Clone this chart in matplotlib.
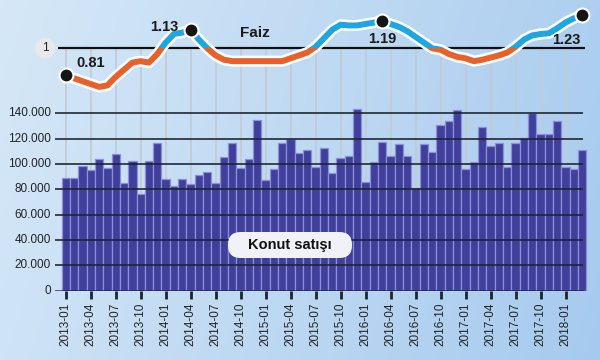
import numpy as np
import matplotlib
matplotlib.use("Agg")
import matplotlib.pyplot as plt
from matplotlib.patches import Rectangle, FancyBboxPatch

plt.rcParams["font.family"] = ["Liberation Sans", "DejaVu Sans"]

# ─── Data ────────────────────────────────────────────────────────────────────

# monthly house sales, 2013-01 .. 2018-03
sales = [
    89000, 89000, 98400, 95300, 103700, 97100, 107700, 85200, 102600, 76300,
    102600, 116400, 88100, 82600, 88100, 84000, 91000, 93400, 85200, 105500,
    116400, 96600, 104200, 135000, 87100, 95800, 116900, 120000, 108700, 111300,
    97400, 112900, 92600, 104500, 106300, 143500, 85500, 101800, 117600, 106300,
    115600, 106300, 81000, 115600, 109500, 130600, 133800, 143000, 96000, 101800,
    129000, 114200, 116900, 97900, 116400, 120800, 140300, 123500, 123500, 133800,
    97900, 96300, 111300,
]

# interest ("Faiz") line, same months
faiz = [
    0.81, 0.79, 0.77, 0.75, 0.73, 0.74, 0.80, 0.85, 0.90, 0.91,
    0.90, 0.96, 1.04, 1.10, 1.11, 1.13, 1.06, 1.00, 0.95, 0.92,
    0.91, 0.91, 0.91, 0.91, 0.91, 0.91, 0.91, 0.93, 0.95, 0.97,
    1.01, 1.07, 1.13, 1.165, 1.16, 1.16, 1.17, 1.18, 1.19, 1.17,
    1.15, 1.12, 1.08, 1.04, 1.00, 0.99, 0.96, 0.94, 0.93, 0.91,
    0.92, 0.935, 0.95, 0.97, 1.01, 1.06, 1.09, 1.10, 1.105, 1.14,
    1.18, 1.21, 1.23,
]

# labelled points: (month index, text, dx, dy in points, ha)
callouts = [
    (0, "0.81", 8, 9, "left"),
    (15, "1.13", -9, 2, "right"),
    (38, "1.19", 0, -13, "center"),
    (62, "1.23", -1, -18, "right"),
]

tick_labels = [f"{y}-{m:02d}" for y in range(2013, 2019) for m in (1, 4, 7, 10)][:21]
tick_pos = list(range(0, len(sales), 3))

months = np.arange(len(sales))

BAR = "#40409c"
GAP = "#8e8ed8"
ORANGE = "#e8602a"
BLUE = "#1ea6e2"
DARK = "#1c2430"

LINE_YMIN, LINE_YMAX = -0.695, 1.303

# ─── Figure & background ─────────────────────────────────────────────────────

W, H = 600, 360
fig = plt.figure(figsize=(6, 3.6), dpi=100)
bg = fig.add_axes([0, 0, 1, 1])
gx, gy = np.meshgrid(np.linspace(0, 1, 200), np.linspace(0, 1, 120))
grad = np.clip(0.75 * gx + 0.15 * gy, 0, 1)
c0 = np.array([0.84, 0.91, 0.97])
c1 = np.array([0.63, 0.78, 0.93])
img = c0[None, None, :] * (1 - grad[..., None]) + c1[None, None, :] * grad[..., None]
bg.imshow(img, extent=[0, 1, 0, 1], aspect="auto", origin="upper")
bg.axis("off")

# axes box in pixels: x 55..590, y 5..290.5 (from top)
left, right, top, bottom = 55, 590, 5, 290.5
ax = fig.add_axes([left / W, 1 - bottom / H, (right - left) / W, (bottom - top) / H])
ax.patch.set_alpha(0)
x0 = (left - 65.7) / 8.33
x1 = (right - 65.7) / 8.33
ax.set_xlim(x0, x1)
ax.set_ylim(0, (bottom - top) / 25.3 * 20000)

# vertical grid from the "1" line downwards
frac = (1 - LINE_YMIN) / (LINE_YMAX - LINE_YMIN)
ax.vlines(tick_pos, 0, frac, transform=ax.get_xaxis_transform(),
          color="#c3cbd6", lw=1.3, zorder=1)

ax.bar(months, sales, width=1.0, color=BAR, edgecolor=GAP, linewidth=0.9, zorder=2)

gx0 = (53 - 65.7) / 8.33
gx1 = (583 - 65.7) / 8.33
for v in range(0, 140001, 20000):
    ax.hlines(v, gx0, gx1, color=DARK, lw=1.3 if v else 1.8, zorder=3, alpha=0.9)
    ax.text(gx0 - 0.25, v, f"{v:,}".replace(",", ".") if v else "0",
            ha="right", va="center", fontsize=8.5, color="#222222", clip_on=False)

ax.set_xticks(tick_pos)
ax.set_xticklabels(tick_labels, rotation=90, fontsize=8.5, color="#222222")
ax.tick_params(axis="x", length=6, width=2, color=DARK, pad=3)
ax.set_yticks([])
for s in ax.spines.values():
    s.set_visible(False)

# "Konut satışı" label box, placed in figure pixels
ax.add_patch(FancyBboxPatch((228 / W, 1 - 258 / H), 124 / W, 26 / H,
                            boxstyle="round,pad=0,rounding_size=0.021",
                            mutation_aspect=W / H, transform=fig.transFigure,
                            fc="#f1f2f7", ec="none", zorder=4, clip_on=False))
ax.text(290 / W, 1 - 245.5 / H, "Konut satışı", transform=fig.transFigure,
        ha="center", va="center", fontsize=10.5, fontweight="bold",
        color="#111111", zorder=5)

# ─── Faiz line ───────────────────────────────────────────────────────────────

ax2 = ax.twinx()
ax2.set_ylim(LINE_YMIN, LINE_YMAX)
ax2.set_xlim(x0, x1)
ax2.axis("off")

ax2.hlines(1, (58 - 65.7) / 8.33, (585 - 65.7) / 8.33, color="#111111", lw=1.6, zorder=1)
ax2.text((45 - 65.7) / 8.33, 1, "1", ha="center", va="center", fontsize=8.5,
         color="#222222", clip_on=False,
         bbox=dict(boxstyle="circle,pad=0.35", fc="#e9e9ea", ec="none"))

ax2.plot(months, faiz, color="white", lw=8, solid_capstyle="round",
         solid_joinstyle="round", zorder=2)
above = Rectangle((x0, 1), x1 - x0, LINE_YMAX - 1, transform=ax2.transData)
below = Rectangle((x0, LINE_YMIN), x1 - x0, 1 - LINE_YMIN, transform=ax2.transData)
lb, = ax2.plot(months, faiz, color=BLUE, lw=4.3, solid_joinstyle="round", zorder=3)
lb.set_clip_path(above)
lo, = ax2.plot(months, faiz, color=ORANGE, lw=4.3, solid_joinstyle="round", zorder=3)
lo.set_clip_path(below)

for i, txt, dx, dy, ha in callouts:
    ax2.plot(months[i], faiz[i], "o", ms=10, color="#151515", mec="white", mew=1.5, zorder=4)
    ax2.annotate(txt, (months[i], faiz[i]), xytext=(dx, dy), textcoords="offset points",
                 ha=ha, va="center", fontsize=10.5, fontweight="bold", color="#1a1a1a", zorder=5)

ax2.text(22.7, 1.107, "Faiz", ha="center", va="center", fontsize=11,
         fontweight="bold", color="#1a1a1a")

fig.savefig("out.png", dpi=100)
